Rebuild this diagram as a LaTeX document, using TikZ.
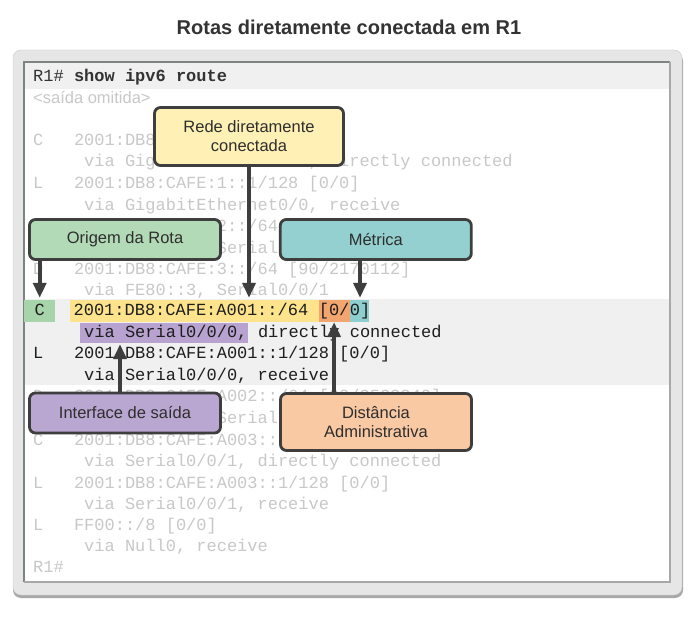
\documentclass[tikz,border=0pt]{standalone}
\usepackage{fontspec}
\setmainfont{Liberation Sans}
\newfontfamily\codefont{Liberation Mono}
\usetikzlibrary{arrows.meta, positioning}

\definecolor{titlegray}{HTML}{333333}
\definecolor{framefill}{HTML}{E6E6E6}
\definecolor{frameline}{HTML}{CACACA}
\definecolor{frameshadow}{HTML}{A8A8A8}
\definecolor{panelline}{HTML}{7E8484}
\definecolor{bandgray}{HTML}{F0F0F0}
\definecolor{faded}{HTML}{C8C8C8}
\definecolor{codeblack}{HTML}{1E1E1E}
\definecolor{boxline}{HTML}{3E3E3E}
\definecolor{boxtext}{HTML}{2E2E2E}
\definecolor{yellowbox}{HTML}{FFF1B5}
\definecolor{greenbox}{HTML}{B3DAB6}
\definecolor{tealbox}{HTML}{95D0D0}
\definecolor{purplebox}{HTML}{BAA7D1}
\definecolor{orangebox}{HTML}{F9C9A3}
\definecolor{yellowhl}{HTML}{FDE48C}
\definecolor{greenhl}{HTML}{A7D4AB}
\definecolor{tealhl}{HTML}{8ECECE}
\definecolor{purplehl}{HTML}{B8A3D0}
\definecolor{orangehl}{HTML}{F3A56F}

\begin{document}
\begin{tikzpicture}[x=1pt, y=-1pt,
    code/.style={anchor=west, inner sep=0pt, text height=13pt, text depth=3pt,
      font=\codefont\fontsize{17}{20}\selectfont, text=faded},
    codedark/.style={code, text=codeblack},
    hl/.style={codedark, inner ysep=3pt},
    box/.style={draw=boxline, line width=2.8pt, rounded corners=6pt, align=center,
      text=boxtext, minimum width=191pt, minimum height=40pt,
      font=\fontsize{16.5}{19}\selectfont},
    arr/.style={draw=boxline, line width=3.6pt, -{Triangle[length=15pt, width=13pt]}}]

  \def\addrx{33}
  \def\viax{84}

  \path[use as bounding box, fill=white] (0,0) rectangle (688,617);

  \node (title) at (349,27) [font=\bfseries\fontsize{20}{23}\selectfont, text=titlegray]
    {Rotas diretamente conectada em R1};

  \fill[frameshadow, rounded corners=8pt] (13,53) rectangle (683,598);
  \fill[framefill, draw=frameline, rounded corners=8pt] (13,50) rectangle (682,595);
  \fill[white] (24,62) rectangle (670,582);
  \fill[bandgray] (25,63) rectangle (669,89);
  \fill[bandgray] (25,299) rectangle (669,385);
  \draw[panelline, line width=2pt] (24,582) -- (24,62) -- (670,62);
  \draw[frameshadow, line width=1.5pt] (670,62) -- (670,582) -- (24,582);

  \fill[greenhl] (24,300) rectangle (55,322);
  \fill[yellowhl] (70,300) rectangle (319,322);
  \fill[orangehl] (318.5,300) rectangle (350,322);
  \fill[tealhl] (349.5,300) rectangle (369,322);
  \fill[purplehl] (80,323) rectangle (247.5,343);

  \node (cmd) at (\addrx,77) [codedark, text=titlegray] {R1\# \textbf{show ipv6 route}};
  \node (omit) at (\addrx,98) [anchor=west, inner sep=0pt, text=faded,
    font=\fontsize{16.5}{19}\selectfont] {<saída omitida>};

  \node (gig) at (\addrx,141) [code] {C~~~2001:DB8:CAFE:1::/64 [0/0]};
  \node (gigvia) at (\viax,162) [code] {via GigabitEthernet0/0, directly connected};
  \node (gigloc) at (\addrx,184) [code] {L~~~2001:DB8:CAFE:1::1/128 [0/0]};
  \node (giglocvia) at (\viax,206) [code] {via GigabitEthernet0/0, receive};
  \node (eigrptwo) at (\addrx,227) [code] {D~~~2001:DB8:CAFE:2::/64 [90/3524096]};
  \node (eigrptwovia) at (\viax,249) [code] {via FE80::3, Serial0/0/1};
  \node (eigrpthree) at (\addrx,270) [code] {D~~~2001:DB8:CAFE:3::/64 [90/2170112]};
  \node (eigrpthreevia) at (\viax,291) [code] {via FE80::3, Serial0/0/1};

  \node (routeC) at (24,311) [hl, minimum width=31pt] {C};
  \node (prefix) [hl, text width=244.8pt, align=left, right=18pt of routeC]
    {2001:DB8:CAFE:A001::/64};
  \node (ad) [hl, right=0pt of prefix] {[0/};
  \node (metric) [hl, right=0pt of ad] {0]};
  \node (exitif) at (\viax,333) [hl] {via Serial0/0/0,};
  \node (exitrest) [codedark, right=0pt of exitif] {~directly connected};
  \node (local) at (\addrx,354) [codedark] {L~~~2001:DB8:CAFE:A001::1/128 [0/0]};
  \node (localvia) at (\viax,376) [codedark] {via Serial0/0/0, receive};

  \node (atwo) at (\addrx,397) [code] {D~~~2001:DB8:CAFE:A002::/64 [90/3523840]};
  \node (atwovia) at (\viax,418) [code] {via FE80::3, Serial0/0/1};
  \node (athree) at (\addrx,440) [code] {C~~~2001:DB8:CAFE:A003::/64 [0/0]};
  \node (athreevia) at (\viax,461) [code] {via Serial0/0/1, directly connected};
  \node (athreeloc) at (\addrx,483) [code] {L~~~2001:DB8:CAFE:A003::1/128 [0/0]};
  \node (athreelocvia) at (\viax,504) [code] {via Serial0/0/1, receive};
  \node (multicast) at (\addrx,525) [code] {L~~~FF00::/8 [0/0]};
  \node (multicastvia) at (\viax,546) [code] {via Null0, receive};
  \node (prompt) at (\addrx,567) [code] {R1\#};

  \node (rede) at (249,136.5) [box, fill=yellowbox, minimum width=189pt, minimum height=58pt]
    {Rede diretamente\\conectada};
  \node (origem) at (125,239.5) [box, fill=greenbox] {Origem da Rota};
  \node (metrica) [box, fill=tealbox, right=57pt of origem] {Métrica};
  \node (interface) at (125,413) [box, fill=purplebox] {Interface de saída};
  \node (distancia) at (376,422) [box, fill=orangebox, minimum height=57pt]
    {Distância\\Administrativa};

  \draw[arr, shorten >=2pt] (origem.south -| routeC) -- (routeC.north);
  \draw[arr, shorten >=2pt] (rede.south) -- (rede.south |- prefix.north);
  \draw[arr, shorten >=2pt] (metrica.south -| metric) -- (metric.north);
  \draw[arr] (interface.north -| 120,0) -- (120,0 |- exitif.south);
  \draw[arr] (distancia.north -| ad) -- (ad.south);

\end{tikzpicture}
\end{document}
